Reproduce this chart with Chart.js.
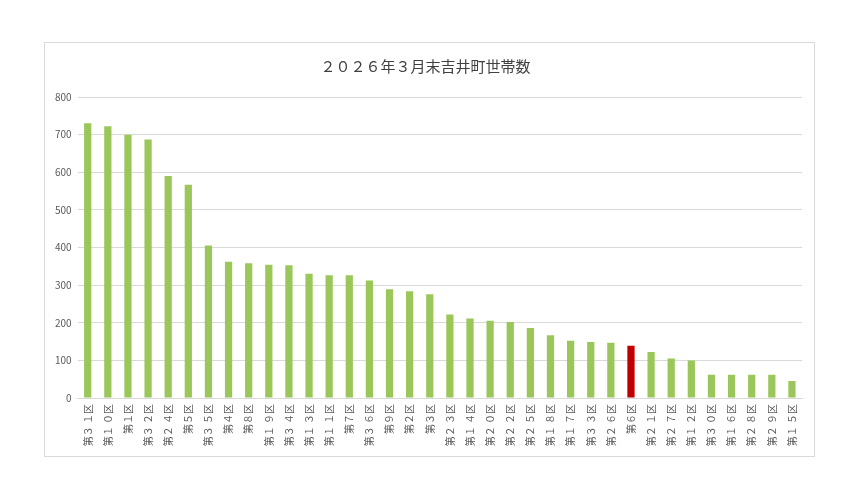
<!DOCTYPE html>
<html><head><meta charset="utf-8">
<script src="https://cdn.jsdelivr.net/npm/chart.js@4"></script>
<style>body{margin:0;background:#fff}#w{position:absolute;left:44px;top:42px;width:769px;height:413px;border:1px solid #d9d9d9}</style>
</head><body><div id="w"><canvas id="c"></canvas></div>
<script>
const districts = ['３１','１０','１','３２','２４','５','３５','４','８','１９','３４','１３','１１','７','３６','９','２','３','２３','１４','２０','２２','２５','１８','１７','３３','２６','６','２１','２７','１２','３０','１６','２８','２９','１５'];
const households = [730,722,700,687,590,567,405,362,358,354,353,330,326,326,312,289,284,276,222,211,205,202,186,167,152,149,147,139,122,105,100,62,62,62,62,45];
const highlight = '６';
const labels = districts.map(d => '第' + d.split('').join(' ') + '区');
const colors = districts.map(d => d === highlight ? '#C00000' : '#9BC75A');
const font = "'Noto Sans CJK JP', sans-serif";
const vlabels = {
  id: 'vlabels',
  afterDraw(chart) {
    const x = chart.scales.x, ctx = chart.ctx;
    ctx.save();
    ctx.font = '10px ' + font;
    ctx.fillStyle = '#595959';
    labels.forEach((l, i) => {
      ctx.save();
      ctx.translate(x.getPixelForTick(i), x.bottom - 58 + 6);
      ctx.rotate(-Math.PI / 2);
      ctx.textAlign = 'right';
      ctx.textBaseline = 'middle';
      ctx.fillText(l, 0, 0);
      ctx.restore();
    });
    ctx.restore();
  }
};
new Chart(document.getElementById('c'), {
  type: 'bar',
  data: { labels, datasets: [{ data: households, backgroundColor: colors, barPercentage: 0.36, categoryPercentage: 1 }] },
  options: {
    responsive: true, maintainAspectRatio: false, animation: false,
    layout: { padding: { left: 4, right: 12, top: 8, bottom: 0 } },
    plugins: {
      legend: { display: false }, tooltip: { enabled: false },
      title: { display: true, text: '２０２６年３月末吉井町世帯数', color: '#404040', font: { family: font, size: 15, weight: 'normal' }, padding: { top: 6, bottom: 22 } }
    },
    scales: {
      x: { grid: { display: false }, border: { color: '#d9d9d9' },
           ticks: { color: 'rgba(0,0,0,0)', minRotation: 90, maxRotation: 90, autoSkip: false, font: { family: font, size: 10 }, padding: 4 },
           afterFit(s) { s.height = 58; } },
      y: { min: 0, max: 800, ticks: { stepSize: 100, color: '#595959', font: { family: font, size: 10 }, padding: 6 },
           grid: { color: '#d9d9d9', drawTicks: false }, border: { display: false } }
    }
  },
  plugins: [vlabels]
});
</script></body></html>
